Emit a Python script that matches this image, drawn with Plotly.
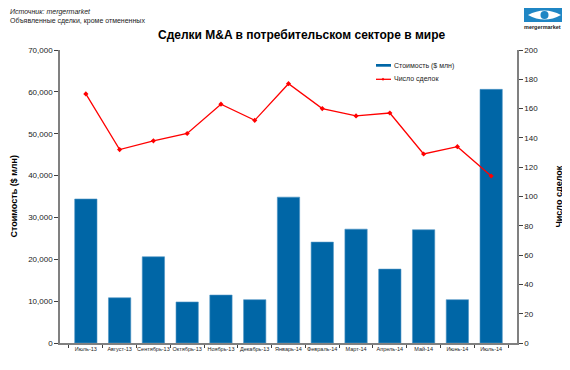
import plotly.graph_objects as go

months = ["Июль-13", "Август-13", "Сентябрь-13", "Октябрь-13", "Ноябрь-13", "Декабрь-13",
          "Январь-14", "Февраль-14", "Март-14", "Апрель-14", "Май-14", "Июнь-14", "Июль-14"]
value_musd = [34400, 10800, 20600, 9800, 11450, 10350, 34850, 24100, 27200, 17650, 27050, 10350, 60600]
deal_count = [170, 132, 138, 143, 163, 152, 177, 160, 155, 157, 129, 134, 114]
left_ticks = [0, 10000, 20000, 30000, 40000, 50000, 60000, 70000]
right_ticks = [0, 20, 40, 60, 80, 100, 120, 140, 160, 180, 200]

FONT = "Liberation Sans, Arial, sans-serif"
BLUE = "#0066a6"
OFF = 8  # page body margin in the browser
FW, FH = 570 - OFF, 370 - OFF
L, R, T, B = 60 - OFF, 517 - OFF, 50 - OFF, 343 - OFF
W = R - L
H = B - T


def px(x):
    # x given in reference (window) pixels
    return (x - OFF - L) / W


def py(y):
    return (B - (y - OFF)) / H


fig = go.Figure()
fig.add_trace(go.Bar(x=months, y=value_musd, name="Стоимость ($ млн)",
                     marker=dict(color=BLUE, line=dict(color="#4d93c4", width=0.6)),
                     yaxis="y", showlegend=False))
fig.add_trace(go.Scatter(x=months, y=deal_count, name="Число сделок", mode="lines+markers",
                         line=dict(color="#ff0000", width=1.3),
                         marker=dict(color="#ff0000", size=4, symbol="diamond"),
                         yaxis="y2", showlegend=False))

fig.update_layout(
    width=FW, height=FH,
    margin=dict(l=L, r=FW - R, t=T, b=FH - B, autoexpand=False),
    paper_bgcolor="white", plot_bgcolor="white",
    font=dict(family=FONT, size=8, color="#222222"),
    bargap=0.34,
    showlegend=False,
    xaxis=dict(showline=True, linecolor="#808080", linewidth=1.5, automargin=False,
               ticks="outside", ticklen=3, tickcolor="#404040", tickson="boundaries",
               tickangle=0,
               tickfont=dict(size=5.5, family=FONT, color="#222222"),
               showgrid=False, zeroline=False, fixedrange=True),
    yaxis=dict(range=[0, 70000], tickvals=left_ticks, tickformat=",d", automargin=False,
               showline=True, linecolor="#808080", linewidth=1.5,
               ticks="outside", ticklen=4, tickcolor="#404040",
               tickfont=dict(size=8, family=FONT, color="#222222"),
               showgrid=False, zeroline=False),
    yaxis2=dict(range=[0, 200], tickvals=right_ticks, overlaying="y", side="right",
                automargin=False,
                showline=True, linecolor="#808080", linewidth=1.5,
                ticks="outside", ticklen=4, tickcolor="#404040",
                tickfont=dict(size=8, family=FONT, color="#222222"),
                showgrid=False, zeroline=False),
)

# title
fig.add_annotation(xref="paper", yref="paper", x=px(302), y=py(35), xanchor="center", yanchor="middle",
                   text="<b>Сделки M&A в потребительском секторе в мире</b>", showarrow=False,
                   font=dict(size=12, family=FONT, color="#000000"))

# axis titles
fig.add_annotation(xref="paper", yref="paper", x=px(13), y=0.5, xanchor="center", yanchor="middle",
                   text="<b>Стоимость ($ млн)</b>", showarrow=False, textangle=-90,
                   font=dict(size=9, family=FONT, color="#000000"))
fig.add_annotation(xref="paper", yref="paper", x=px(558), y=0.5, xanchor="center", yanchor="middle",
                   text="<b>Число сделок</b>", showarrow=False, textangle=-90,
                   font=dict(size=9, family=FONT, color="#000000"))

# legend (manual)
fig.add_shape(type="rect", xref="paper", yref="paper", x0=px(376), x1=px(391), y0=py(66.7), y1=py(64),
              fillcolor=BLUE, line=dict(width=0))
fig.add_annotation(xref="paper", yref="paper", x=px(392), y=py(65.5), xanchor="left", yanchor="middle",
                   text="Стоимость ($ млн)", showarrow=False,
                   font=dict(size=7, family=FONT, color="#222222"))
fig.add_shape(type="line", xref="paper", yref="paper", x0=px(376), x1=px(391), y0=py(79.3), y1=py(79.3),
              line=dict(color="#ff0000", width=1.3))
fig.add_shape(type="path", xref="paper", yref="paper",
              path=f"M {px(381.5)} {py(79.3)} L {px(383)} {py(77.8)} L {px(384.5)} {py(79.3)} L {px(383)} {py(80.8)} Z",
              fillcolor="#ff0000", line=dict(width=0))
fig.add_annotation(xref="paper", yref="paper", x=px(392), y=py(79.3), xanchor="left", yanchor="middle",
                   text="Число сделок", showarrow=False,
                   font=dict(size=7, family=FONT, color="#222222"))

# header notes
fig.add_annotation(xref="paper", yref="paper", x=px(8), y=py(12.5), xanchor="left", yanchor="middle",
                   text="<i>Источник: mergermarket</i>", showarrow=False,
                   font=dict(size=7, family=FONT, color="#222222"))
fig.add_annotation(xref="paper", yref="paper", x=px(8), y=py(21), xanchor="left", yanchor="middle",
                   text="Объявленные сделки, кроме отмененных", showarrow=False,
                   font=dict(size=7, family=FONT, color="#222222"))

# logo
LOGO = "#1f86c4"
fig.add_shape(type="rect", xref="paper", yref="paper", x0=px(524), x1=px(565), y0=py(22), y1=py(8),
              fillcolor=LOGO, line=dict(width=0))
fig.add_shape(type="path", xref="paper", yref="paper",
              path=(f"M {px(528)} {py(15)} Q {px(544.5)} {py(6)} {px(561)} {py(15)} "
                    f"Q {px(544.5)} {py(24)} {px(528)} {py(15)} Z"),
              fillcolor="white", line=dict(width=0))
fig.add_shape(type="circle", xref="paper", yref="paper", x0=px(540.5), x1=px(548.5), y0=py(19), y1=py(11),
              fillcolor=LOGO, line=dict(width=0))
fig.add_annotation(xref="paper", yref="paper", x=px(542), y=py(27), xanchor="center", yanchor="middle",
                   text="<b>mergermarket</b>", showarrow=False,
                   font=dict(size=5.5, family=FONT, color="#222222"))

fig.write_html("out.html")
